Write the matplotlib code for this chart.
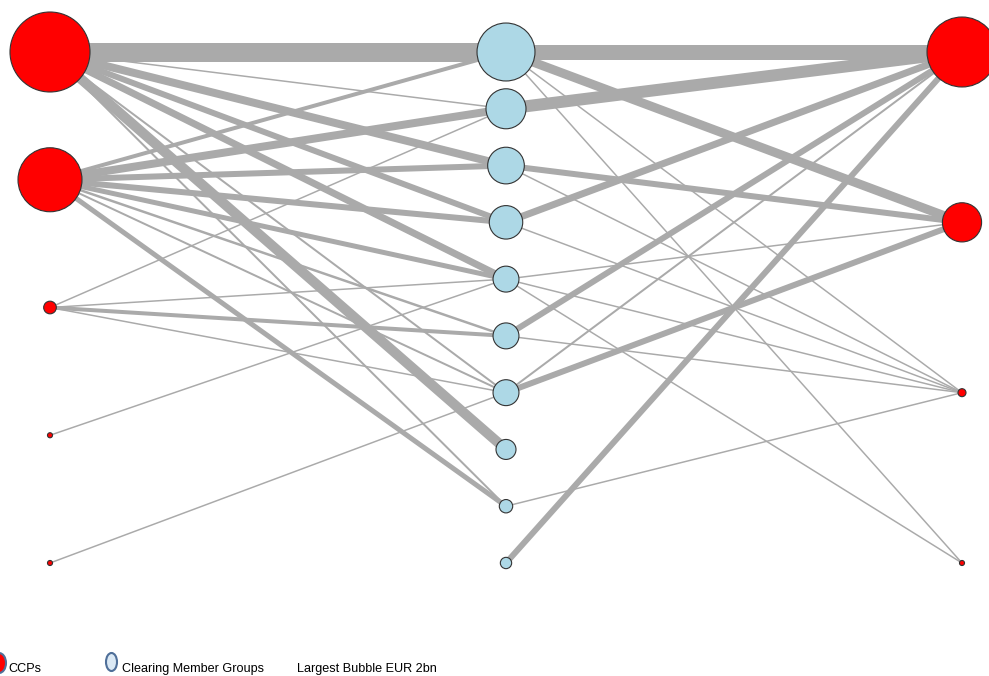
import numpy as np
import matplotlib
matplotlib.use("Agg")
import matplotlib.pyplot as plt
from matplotlib.patches import Circle, Ellipse

# ---------------- data ----------------
# bubble sizes (EUR bn), largest bubble = EUR 2bn
ccp_left = ["CCP A", "CCP B", "CCP C", "CCP D", "CCP E"]
ccp_left_size = [2.0, 1.28, 0.05, 0.008, 0.008]
cm_groups = ["CM 1", "CM 2", "CM 3", "CM 4", "CM 5", "CM 6", "CM 7", "CM 8", "CM 9", "CM 10"]
cm_size = [1.05, 0.50, 0.42, 0.35, 0.21, 0.21, 0.21, 0.125, 0.056, 0.04]
ccp_right = ["CCP F", "CCP G", "CCP H", "CCP I"]
ccp_right_size = [1.53, 0.48, 0.02, 0.008]

# links left CCPs -> clearing member groups (index, index, weight)
left_ccp = [0, 0, 0, 0, 0, 0, 0, 0, 1, 1, 1, 1, 1, 1, 1, 1, 2, 2, 2, 2, 3, 4]
left_cm = [0, 1, 2, 3, 4, 6, 7, 8, 0, 1, 2, 3, 4, 5, 6, 8, 1, 4, 5, 6, 4, 6]
left_w = [19, 1.5, 8, 6, 7, 2, 10, 2, 4, 8, 6, 6, 5, 2.5, 2, 5, 1.5, 1.5, 4, 1.5, 1.5, 1.5]

# links clearing member groups -> right CCPs
right_cm = [0, 0, 0, 0, 1, 2, 2, 3, 3, 4, 4, 4, 5, 5, 6, 6, 8, 9]
right_ccp = [0, 1, 2, 3, 0, 1, 2, 0, 2, 1, 2, 3, 0, 2, 0, 1, 2, 0]
right_w = [15, 9, 1.5, 1.5, 12, 6, 1.5, 7, 1.5, 1.5, 1.5, 1.5, 6, 1.5, 2, 6, 1.5, 6]

legend_labels = ["CCPs", "Clearing Member Groups", "Largest Bubble EUR 2bn"]

# ---------------- layout ----------------
W, H = 989, 676
fig = plt.figure(figsize=(W / 100, H / 100), dpi=100)
ax = fig.add_axes([0, 0, 1, 1])
ax.set_xlim(0, W)
ax.set_ylim(H, 0)
ax.axis("off")

x_cols = [50, 506, 962]
y_top, y_bot = 52, 563
yl = np.linspace(y_top, y_bot, len(ccp_left))
ym = np.linspace(y_top, y_bot, len(cm_groups))
yr = np.linspace(y_top, y_bot, len(ccp_right))

px2pt = 72 / 100
edge_col = "#aaaaaa"

def rad(v):
    return 40 * np.sqrt(v / 2.0)

for c, m, w in zip(left_ccp, left_cm, left_w):
    ax.plot([x_cols[0], x_cols[1]], [yl[c], ym[m]], color=edge_col,
            lw=w * px2pt, solid_capstyle="butt", zorder=1)
for m, c, w in zip(right_cm, right_ccp, right_w):
    ax.plot([x_cols[1], x_cols[2]], [ym[m], yr[c]], color=edge_col,
            lw=w * px2pt, solid_capstyle="butt", zorder=1)

node_edge = "#333333"
for y, v in zip(yl, ccp_left_size):
    ax.add_patch(Circle((x_cols[0], y), rad(v), facecolor="#ff0000",
                        edgecolor=node_edge, lw=0.8, zorder=3))
for y, v in zip(ym, cm_size):
    ax.add_patch(Circle((x_cols[1], y), rad(v), facecolor="#add8e6",
                        edgecolor=node_edge, lw=0.8, zorder=3))
for y, v in zip(yr, ccp_right_size):
    ax.add_patch(Circle((x_cols[2], y), rad(v), facecolor="#ff0000",
                        edgecolor=node_edge, lw=0.8, zorder=3))

# ---------------- legend ----------------
leg_y = 663
ax.add_patch(Ellipse((-1, leg_y), 14, 20, facecolor="#ff0000",
                     edgecolor="#4f6f99", lw=1.5, zorder=3, clip_on=False))
ax.add_patch(Ellipse((111.5, leg_y - 1), 11, 18, facecolor="#dbe9f5",
                     edgecolor="#4f6f99", lw=1.5, zorder=3))
fam = ["Liberation Sans", "DejaVu Sans"]
ax.text(8, 672, legend_labels[0], fontsize=9.1, family=fam, va="baseline", ha="left")
ax.text(122, 672, legend_labels[1], fontsize=9.1, family=fam, va="baseline", ha="left")
ax.text(297, 672, legend_labels[2], fontsize=9.1, family=fam, va="baseline", ha="left")

fig.savefig("out.png", dpi=100)
